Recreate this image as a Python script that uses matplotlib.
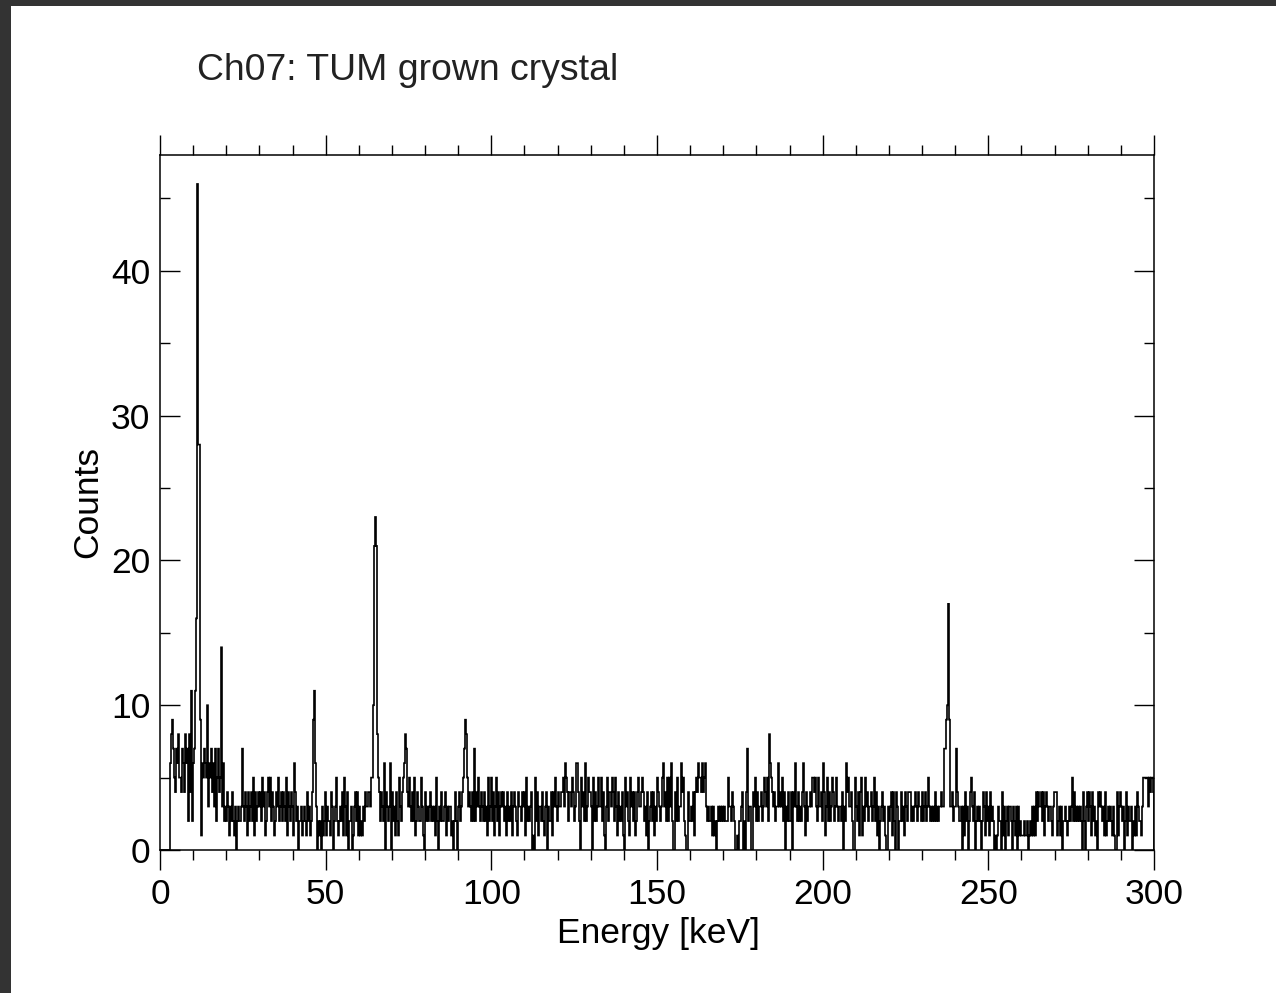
import numpy as np
import matplotlib
matplotlib.use('Agg')
import matplotlib.pyplot as plt
from matplotlib.ticker import MultipleLocator
from matplotlib.patches import Rectangle

plt.rcParams['font.family'] = ['Liberation Sans', 'DejaVu Sans']

title = "Ch07: TUM grown crystal"
xlabel = "Energy [keV]"
ylabel = "Counts"
x_range = (0, 300)
y_range = (0, 48)
x_ticks = [0, 50, 100, 150, 200, 250, 300]
y_ticks = [0, 10, 20, 30, 40]

# counts per channel, ten channels per group (values 0-9); larger counts below
count_groups = [
    "0000000000", "6897547685", "5476486728", "4926799999", "9165765936",
    "5746372574", "5936232431", "3242130232", "2373243142", "3425142343",
    "4253412453", "5243124352", "3424325143", "2431642302", "2312321423",
    "1249963021", "2031241322", "1430235212", "3241531402", "2301342413",
    "1213243344", "3559999854", "2432604323", "6042314215", "3245687435",
    "3242512432", "2531042323", "4232315203", "2422341323", "3120242034",
    "2345798534", "3242724353", "2432423152", "3524135241", "3434231423",
    "2413432143", "3243415232", "3401052413", "3242134032", "2414353243",
    "3445365424", "4354236642", "0534262354", "4305242353", "3524103524",
    "4354253142", "3241053421", "5342412453", "3454231402", "3424132543",
    "2356342525", "3620042523", "3645210042", "2324145465", "5464563232",
    "2313120232", "3232322253", "3243200102", "2340204723", "3004352423",
    "3423543528", "6543423363", "4352403242", "2404363242", "3246314233",
    "4355453253", "3426413524", "2354235323", "3240326453", "3420053241",
    "4513253423", "3423524130", "2342310032", "3414204302", "2423143244",
    "4232343243", "3242342353", "2323242323", "3433779999", "3342337432",
    "2303142302", "4532402323", "2024314231", "4232010132", "2041302313",
    "3203213031", "2111211201", "2131314243", "3424134323", "3213444123",
    "1302232123", "2352423232", "3204203424", "3142312043", "4323141232",
    "3213100413", "4323024132", "2302131432", "2135555535", "4554",
]
peak_counts = {31: 11, 35: 11, 36: 16, 37: 46, 38: 28, 39: 28, 47: 10,
               61: 14, 154: 11, 213: 10, 214: 21, 215: 23, 216: 21,
               787: 10, 788: 17}

counts = np.array([int(c) for c in "".join(count_groups)], dtype=float)
for k, v in peak_counts.items():
    counts[k] = v
edges = np.linspace(x_range[0], x_range[1], len(counts) + 1)

W, H = 1276, 993
fig = plt.figure(figsize=(W / 100, H / 100), dpi=100)
fig.patches.append(Rectangle((0, 1 - 6 / H), 1, 6 / H, transform=fig.transFigure,
                             facecolor='#333333', edgecolor='none', zorder=10))
fig.patches.append(Rectangle((0, 0), 11 / W, 1, transform=fig.transFigure,
                             facecolor='#333333', edgecolor='none', zorder=10))

ax = fig.add_axes([160 / W, (H - 850) / H, (1154 - 160) / W, (850 - 155) / H])
ax.stairs(counts, edges, color='black', lw=1.2, baseline=0)
ax.set_xlim(*x_range)
ax.set_ylim(*y_range)
ax.set_xticks(x_ticks)
ax.set_yticks(y_ticks)
ax.xaxis.set_minor_locator(MultipleLocator(10))
ax.yaxis.set_minor_locator(MultipleLocator(5))
for s in ax.spines.values():
    s.set_linewidth(1.1)
ax.tick_params(axis='x', which='both', direction='out', top=True, bottom=True, width=1.0)
ax.tick_params(axis='x', which='major', length=14.4, pad=6, labelsize=25.5)
ax.tick_params(axis='x', which='minor', length=7.2)
ax.tick_params(axis='y', which='both', direction='in', left=True, right=True, width=1.0)
ax.tick_params(axis='y', which='major', length=14.4, pad=7, labelsize=25.5)
ax.tick_params(axis='y', which='minor', length=7.2)

fig.text(197 / W, 1 - 80 / H, title, fontsize=26.9, ha='left', va='baseline', color='#222222')
fig.text(658 / W, 1 - 943 / H, xlabel, fontsize=25.5, ha='center', va='baseline')
fig.text(88 / W, 1 - 502 / H, ylabel, fontsize=25.5, ha='center', va='center', rotation=90)

fig.savefig('out.png', dpi=100)
